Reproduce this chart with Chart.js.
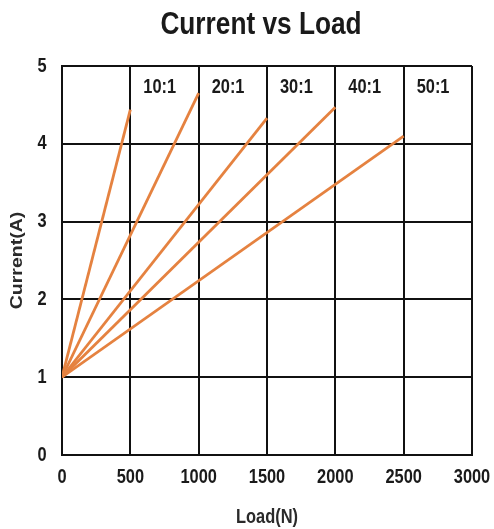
<!DOCTYPE html>
<html lang="en">
  <head>
    <meta charset="UTF-8" />
    <title>Current vs Load</title>
    <script src="https://cdn.jsdelivr.net/npm/chart.js@4"></script>
    <style>
      body { margin: 0; background: #fff; }
      #wrap { width: 494px; height: 529px; }
    </style>
  </head>
  <body>
    <div id="wrap"><canvas id="currentChart"></canvas></div>
  </body>
  <script>
    // gear ratios and where each line ends
    const ratios = ["10:1", "20:1", "30:1", "40:1", "50:1"];
    const maxLoads = [500, 1000, 1500, 2000, 2500]; // N
    const endCurrents = [4.44, 4.65, 4.33, 4.47, 4.1]; // A
    const startCurrent = 1; // A at no load
    const xTicks = [0, 500, 1000, 1500, 2000, 2500, 3000];
    const yTicks = [0, 1, 2, 3, 4, 5];

    const lineColor = "#e58240";
    const textColor = "#1a1a1a";
    const fontFamily = "'Liberation Sans', Arial, sans-serif";
    const squeeze = 0.82; // the original lettering is condensed

    const datasets = ratios.map((r, i) => ({
      label: r,
      data: [
        {x: 0, y: startCurrent},
        {x: maxLoads[i], y: endCurrents[i]},
      ],
      borderColor: lineColor,
      borderWidth: 2.8,
      pointRadius: 0,
      tension: 0,
    }));

    function squeezedText(c, text, x, y, opts) {
      c.save();
      c.font = opts.font;
      c.fillStyle = opts.color || textColor;
      c.textAlign = opts.align || "center";
      c.textBaseline = opts.baseline || "middle";
      c.translate(x, y);
      if (opts.rotate) c.rotate(opts.rotate);
      c.scale(opts.sx, 1);
      c.fillText(text, 0, 0);
      c.restore();
    }

    // all lettering is drawn here so it can be condensed like the original
    const lettering = {
      id: "lettering",
      afterDraw(chart) {
        const {ctx: c, scales, chartArea: a} = chart;
        const tickFont = "bold 20px " + fontFamily;

        squeezedText(c, "Current vs Load", (a.left + a.right) / 2 - 6, 34, {
          font: "bold 32px " + fontFamily, sx: squeeze, baseline: "alphabetic",
        });

        xTicks.forEach((v) => {
          squeezedText(c, String(v), scales.x.getPixelForValue(v), a.bottom + 28, {
            font: tickFont, sx: squeeze, baseline: "alphabetic",
          });
        });
        yTicks.forEach((v) => {
          squeezedText(c, String(v), a.left - 20, scales.y.getPixelForValue(v), {
            font: tickFont, sx: squeeze,
          });
        });

        squeezedText(c, "Load(N)", (a.left + a.right) / 2, a.bottom + 68, {
          font: "bold 20px " + fontFamily, sx: squeeze, baseline: "alphabetic", color: "#2a2a2a",
        });
        squeezedText(c, "Current(A)", 18, (a.top + a.bottom) / 2, {
          font: "bold 16px " + fontFamily, sx: 1 / squeeze, rotate: -Math.PI / 2, color: "#2a2a2a",
        });

        ratios.forEach((r, i) => {
          squeezedText(c, r, scales.x.getPixelForValue(maxLoads[i] + 215), scales.y.getPixelForValue(4.72), {
            font: tickFont, sx: squeeze,
          });
        });
      },
    };

    const ctx = document.getElementById("currentChart").getContext("2d");
    new Chart(ctx, {
      type: "line",
      data: {datasets},
      plugins: [lettering],
      options: {
        responsive: true,
        maintainAspectRatio: false,
        animation: false,
        layout: {padding: {left: 62, right: 22, top: 66, bottom: 74}},
        plugins: {
          legend: {display: false},
          tooltip: {enabled: false},
          title: {display: false},
        },
        scales: {
          x: {
            type: "linear",
            min: 0,
            max: 3000,
            afterBuildTicks: (axis) => {
              axis.ticks = xTicks.map((v) => ({value: v}));
            },
            grid: {color: "#111", lineWidth: 2, drawTicks: false},
            border: {color: "#111", width: 2},
            ticks: {display: false},
          },
          y: {
            min: 0,
            max: 5,
            afterBuildTicks: (axis) => {
              axis.ticks = yTicks.map((v) => ({value: v}));
            },
            grid: {color: "#111", lineWidth: 2, drawTicks: false},
            border: {color: "#111", width: 2},
            ticks: {display: false},
          },
        },
      },
    });
  </script>
</html>
